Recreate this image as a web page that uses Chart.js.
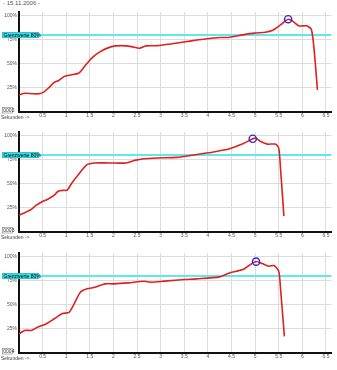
<!DOCTYPE html>
<html>
<head>
<meta charset="utf-8">
<script src="https://cdn.jsdelivr.net/npm/chart.js@4/dist/chart.umd.min.js"></script>
<style>
  body { margin:0; background:#fff; width:337px; height:370px; overflow:hidden; position:relative; font-family:"Liberation Sans", Arial, sans-serif; }
  .box { position:absolute; left:0; width:337px; height:122px; }
  #datum { position:absolute; left:3px; top:0px; font-size:6px; color:#555; }
</style>
</head>
<body>
<div id="datum">- 15.11.2006 -</div>
<div class="box" style="top:0px"><canvas id="c1" width="337" height="122"></canvas></div>
<div class="box" style="top:120px"><canvas id="c2" width="337" height="122"></canvas></div>
<div class="box" style="top:241px"><canvas id="c3" width="337" height="122"></canvas></div>
<script>
// Messung 0002
let times1 = [0, 0.12, 0.29, 0.43, 0.53, 0.64, 0.74, 0.85, 0.95, 1.09, 1.26, 1.40, 1.54, 1.72, 1.96, 2.17, 2.38, 2.55, 2.69, 2.93, 3.21, 3.56, 3.90, 4.25, 4.46, 4.74, 4.98, 5.22, 5.36, 5.54, 5.70, 5.81, 5.92, 6.09, 6.19, 6.25, 6.32];
let values1 = [17.7, 19.5, 19, 19, 21, 25.7, 30.5, 33, 36.8, 38.5, 40.3, 48, 56, 62.8, 68, 69, 68, 66.3, 68.8, 69, 70.8, 73.3, 75.7, 77.4, 77.8, 80.2, 82, 83, 84.7, 90.6, 96.5, 94, 89.6, 89.6, 86, 64.6, 23];
// Messung 0003
let times2 = [0, 0.12, 0.26, 0.36, 0.47, 0.60, 0.74, 0.83, 0.95, 1.02, 1.12, 1.26, 1.44, 1.61, 1.89, 2.27, 2.45, 2.65, 2.93, 3.35, 3.63, 3.97, 4.18, 4.46, 4.74, 4.95, 5.02, 5.12, 5.26, 5.43, 5.50, 5.54, 5.61];
let values2 = [17.6, 20, 23.5, 27.6, 31, 33.8, 38, 42.4, 43.4, 43.4, 51, 59.7, 70, 71.8, 71.8, 71.8, 74.5, 76.2, 77, 77.6, 79.6, 82.1, 83.8, 86.6, 91.7, 96.9, 97.5, 94.1, 91.4, 91.4, 87.3, 64.8, 16.5];
// Messung 0004
let times3 = [0, 0.12, 0.26, 0.40, 0.57, 0.74, 0.92, 1.06, 1.16, 1.30, 1.44, 1.61, 1.82, 1.99, 2.31, 2.65, 2.79, 3.14, 3.49, 3.76, 4.25, 4.46, 4.74, 4.88, 5.02, 5.15, 5.29, 5.40, 5.50, 5.54, 5.62];
let values3 = [20, 23.5, 23.5, 27, 30.2, 35.4, 41, 42.3, 50.3, 63.1, 66.7, 68.4, 71.9, 71.9, 72.9, 74.6, 73.6, 75, 76.4, 77.1, 79.2, 83.3, 86.8, 91.3, 95.1, 93, 90.2, 91, 85, 66, 17.3];

let peakTimes = [5.70, 4.95, 5.02];
let peakValues = [96.5, 97, 95];
let ids = ["0002", "0003", "0004"];
let grenzwert = 80;
let grenzText = "Grenzwerte 80%";
let yTicks = [25, 50, 75, 100];
let xTicks = [0, 0.5, 1, 1.5, 2, 2.5, 3, 3.5, 4, 4.5, 5, 5.5, 6, 6.5];
let xMax = 6.62;

let labelsPlugin = {
  id: "extras",
  afterDraw(chart) {
    let ctx = chart.ctx;
    let ys = chart.scales.y;
    let yy = ys.getPixelForValue(grenzwert);
    ctx.save();
    // Grenzwert-Kasten
    ctx.fillStyle = "#3fdde6";
    ctx.fillRect(2, yy - 3, 37, 6);
    ctx.strokeStyle = "#1aa6b0";
    ctx.lineWidth = 0.5;
    ctx.strokeRect(2.5, yy - 2.5, 36, 5);
    ctx.fillStyle = "#000";
    ctx.font = "5px 'Liberation Sans'";
    ctx.textBaseline = "middle";
    ctx.fillText(grenzText, 3.5, yy + 0.3);
    // Nummer
    let yb = ys.getPixelForValue(0);
    ctx.fillStyle = "#fff";
    ctx.fillRect(2, yb - 5, 11, 6);
    ctx.strokeStyle = "#666";
    ctx.strokeRect(2.5, yb - 4.5, 10, 5.5);
    ctx.fillStyle = "#333";
    ctx.fillText(chart.options.plugins.extras.id, 3.3, yb - 1.6);
    // Achsentitel
    ctx.fillStyle = "#444";
    ctx.fillText("Sekunden ->", 1, yb + 6);
    ctx.restore();
  }
};

function makeChart(canvasId, times, values, idx) {
  let line = times.map((t, i) => ({ x: t, y: values[i] }));
  new Chart(document.getElementById(canvasId), {
    type: "line",
    data: {
      datasets: [
        {
          data: [{ x: peakTimes[idx], y: peakValues[idx] }],
          showLine: false,
          pointRadius: 3.6,
          pointBorderWidth: 1.4,
          pointBorderColor: "#2a2ad0",
          pointBackgroundColor: "rgba(0,0,0,0)",
          order: 0
        },
        {
          data: line,
          borderColor: "#e02020",
          borderWidth: 1.6,
          pointRadius: 0,
          tension: 0.25,
          order: 1
        },
        {
          data: [{ x: 0, y: grenzwert }, { x: xMax, y: grenzwert }],
          borderColor: "#5fe8ee",
          borderWidth: 2,
          pointRadius: 0,
          order: 2
        }
      ]
    },
    options: {
      responsive: false,
      animation: false,
      layout: { padding: { top: 12, left: 0, right: 0, bottom: 0 } },
      plugins: {
        legend: { display: false },
        tooltip: { enabled: false },
        extras: { id: ids[idx] }
      },
      scales: {
        x: {
          type: "linear",
          min: 0,
          max: xMax,
          afterBuildTicks: (s) => { s.ticks = xTicks.map(v => ({ value: v })); },
          afterFit: (s) => { s.height = 10; s.paddingLeft = 0; s.paddingRight = 0; },
          ticks: {
            padding: 1,
            maxRotation: 0,
            autoSkip: false,
            color: "#555",
            font: { size: 5, family: "Liberation Sans" },
            callback: (v) => v == 0 ? "" : String(v)
          },
          grid: { color: "#dcdcdc", lineWidth: 1, drawTicks: false },
          border: { color: "#111", width: 2 }
        },
        y: {
          min: 0,
          max: 104,
          afterBuildTicks: (s) => { s.ticks = yTicks.map(v => ({ value: v })); },
          afterFit: (s) => { s.width = 19; s.paddingTop = 0; s.paddingBottom = 0; },
          ticks: {
            padding: 2,
            color: "#555",
            font: { size: 5, family: "Liberation Sans" },
            callback: (v) => v + "%"
          },
          grid: { color: "#dcdcdc", lineWidth: 1, drawTicks: false },
          border: { color: "#111", width: 2 }
        }
      }
    },
    plugins: [labelsPlugin]
  });
}

makeChart("c1", times1, values1, 0);
makeChart("c2", times2, values2, 1);
makeChart("c3", times3, values3, 2);
</script>
</body>
</html>
